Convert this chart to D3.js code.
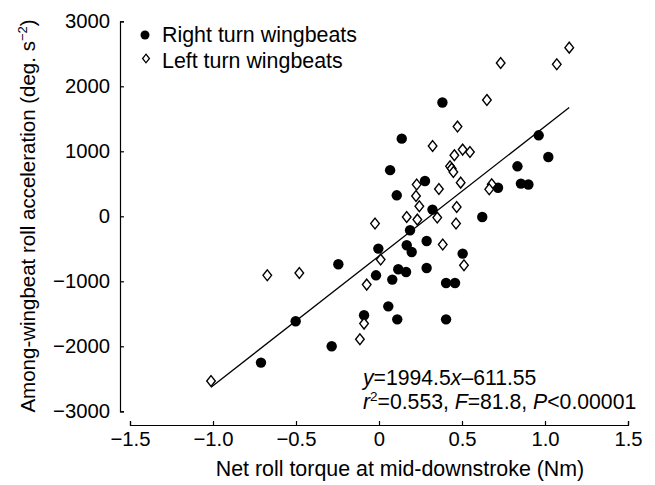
<!DOCTYPE html>
<html><head><meta charset="utf-8">
<script src="https://cdn.jsdelivr.net/npm/d3@7"></script>
<style>
body{margin:0;background:#fff}
svg{display:block}
text{font-family:"Liberation Sans",Arial,Helvetica,sans-serif;fill:#000}
</style>
</head><body><svg id="c" width="655" height="485"></svg>
<script>
// Right turn wingbeats (filled circles)
const rightX = [0.382,0.137,0.067,0.277,0.107,0.322,0.187,-0.004,0.167,0.197,0.287,0.287,0.116,0.163,-0.018,0.08,0.404,0.458,0.056,-0.09,0.11,0.404,-0.245,-0.502,-0.711,-0.285,0.622,0.504,0.962,1.02,0.834,0.855,0.9,0.717];
const rightY = [1750,1195,710,543,323,103,-215,-497,-446,-549,-380,-795,-815,-857,-908,-974,-1026,-1026,-1385,-1523,-1585,-1585,-738,-1615,-2251,-2000,-11,-574,1246,913,769,503,490,440];
// Left turn wingbeats (open diamonds)
const leftX = [1.146,1.071,0.733,0.65,0.473,0.323,0.454,0.504,0.548,0.428,0.438,0.448,0.492,0.227,0.361,0.679,0.664,0.223,0.243,0.468,0.167,0.231,0.351,-0.024,0.464,0.384,0.01,0.512,-0.074,-0.09,-0.115,-0.673,-0.48,-1.012];
const leftY = [2595,2338,2358,1790,1380,1082,940,1026,989,769,734,682,518,488,420,492,415,312,154,143,-11,-51,-20,-112,-112,-435,-666,-754,-1051,-1651,-1892,-908,-872,-2534];
const xTicks = [-1.5,-1,-0.5,0,0.5,1,1.5];
const xTickLabels = ["\u22121.5","\u22121.0","\u22120.5","0","0.5","1.0","1.5"];
const yTicks = [3000,2000,1000,0,-1000,-2000,-3000];
const yTickLabels = ["3000","2000","1000","0","\u22121000","\u22122000","\u22123000"];
const slope = 1994.5, intercept = -611.55;
const legendLabels = ["Right turn wingbeats","Left turn wingbeats"];

const svg = d3.select("#c");
const x = d3.scaleLinear().domain([-1.5,1.5]).range([130,628]);
const y = d3.scaleLinear().domain([-3000,3000]).range([411.3,21.3]);

const xAxis = d3.axisBottom(x).tickValues(xTicks).tickFormat((d,i)=>xTickLabels[i]).tickSize(-4).tickPadding(7);
const gx = svg.append("g").attr("transform","translate(0,425)").call(xAxis);
const yAxis = d3.axisLeft(y).tickValues(yTicks).tickFormat((d,i)=>yTickLabels[i]).tickSize(-4).tickPadding(10);
const gy = svg.append("g").attr("transform","translate(120,0)").call(yAxis);
[gx,gy].forEach(g=>{
  g.selectAll("path,line").attr("stroke","#000").attr("stroke-width",1.2);
  g.selectAll("text").attr("font-size",20.3).attr("font-family",'"Liberation Sans",Arial,sans-serif').attr("fill","#000");
});

// Axis titles
svg.append("text").attr("x",400).attr("y",476).attr("text-anchor","middle").attr("font-size",21.4)
  .text("Net roll torque at mid-downstroke (Nm)");
const yt = svg.append("text").attr("transform","translate(35,216) rotate(-90)").attr("text-anchor","middle").attr("font-size",20.5);
yt.append("tspan").text("Among-wingbeat roll acceleration (deg. s");
yt.append("tspan").attr("dy",-8).attr("font-size",13).text("\u22122");
yt.append("tspan").attr("dy",8).text(")");

// regression line
const allX = rightX.concat(leftX);
const xmin = d3.min(allX), xmax = d3.max(allX);
svg.append("line").attr("x1",x(xmin)).attr("y1",y(slope*xmin+intercept))
  .attr("x2",x(xmax)).attr("y2",y(slope*xmax+intercept)).attr("stroke","#000").attr("stroke-width",1.3);

// points
const rightData = rightX.map((v,i)=>[v,rightY[i]]);
const leftData = leftX.map((v,i)=>[v,leftY[i]]);
svg.append("g").selectAll("circle").data(rightData).join("circle")
  .attr("cx",d=>x(d[0])).attr("cy",d=>y(d[1])).attr("r",5.2).attr("fill","#000");
const dia = (w,h)=>`M0,${-h}L${w},0L0,${h}L${-w},0Z`;
svg.append("g").selectAll("path").data(leftData).join("path")
  .attr("transform",d=>`translate(${x(d[0])},${y(d[1])})`).attr("d",dia(4.3,5.4))
  .attr("fill","#fff").attr("stroke","#000").attr("stroke-width",1.4);

// legend
svg.append("circle").attr("cx",145).attr("cy",35).attr("r",4.5).attr("fill","#000");
svg.append("text").attr("x",162).attr("y",42).attr("font-size",21.4).text(legendLabels[0]);
svg.append("path").attr("transform","translate(146,58.5)").attr("d",dia(3.4,4.3)).attr("fill","#fff").attr("stroke","#000").attr("stroke-width",1.3);
svg.append("text").attr("x",162).attr("y",68).attr("font-size",21.4).text(legendLabels[1]);

// equation
const e1 = svg.append("text").attr("x",363).attr("y",385).attr("font-size",21.2);
e1.append("tspan").attr("font-style","italic").text("y");
e1.append("tspan").text("=1994.5");
e1.append("tspan").attr("font-style","italic").text("x");
e1.append("tspan").text("\u2013611.55");
const e2 = svg.append("text").attr("x",363).attr("y",409).attr("font-size",21.2);
e2.append("tspan").attr("font-style","italic").text("r");
e2.append("tspan").attr("dy",-8).attr("font-size",13.5).text("2");
e2.append("tspan").attr("dy",8).text("=0.553, ");
e2.append("tspan").attr("font-style","italic").text("F");
e2.append("tspan").text("=81.8, ");
e2.append("tspan").attr("font-style","italic").text("P");
e2.append("tspan").text("<0.00001");
</script>
</body></html>
